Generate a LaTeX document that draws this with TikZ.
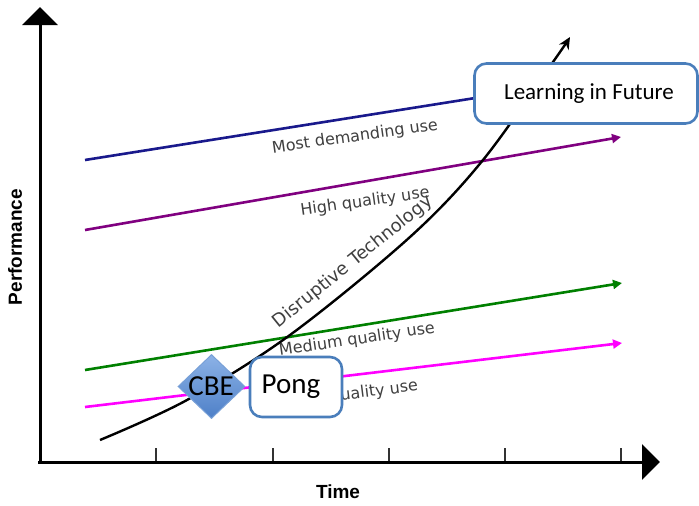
\documentclass[tikz,border=0pt]{standalone}
\usepackage{fontspec}
\setmainfont{Carlito}
\newfontfamily\labfont{DejaVu Sans}
\newfontfamily\axfont{Liberation Sans}
\usetikzlibrary{arrows.meta,shapes.geometric}
\definecolor{navyline}{RGB}{25,25,140}
\definecolor{purpleline}{RGB}{128,0,128}
\definecolor{greenline}{RGB}{0,128,0}
\definecolor{magline}{RGB}{255,0,255}
\definecolor{labgray}{RGB}{64,64,64}
\definecolor{boxblue}{RGB}{74,126,187}
\definecolor{dialight}{RGB}{140,178,230}
\definecolor{diadark}{RGB}{78,128,200}
\definecolor{diaedge}{RGB}{120,160,215}
\tikzset{
  axisline/.style={line width=3pt,-{Triangle[length=18pt,width=35pt]}},
  tickline/.style={line width=1.4pt,draw=black!80},
  useline/.style={line width=2.6pt,-{Triangle[length=9pt,width=9pt]}},
  lab/.style={font=\labfont\fontsize{16}{18}\selectfont,text=labgray,inner sep=0pt},
  axlab/.style={font=\axfont\bfseries\fontsize{19}{21}\selectfont,inner sep=0pt},
  callbox/.style={draw=boxblue,line width=2.6pt,rounded corners=12pt,fill=white,inner sep=0pt}
}
\begin{document}
\begin{tikzpicture}[x=1pt,y=-1pt]
\useasboundingbox (0,0) rectangle (699,506);
\fill[white] (0,0) rectangle (699,506);
% axes
\coordinate (ybot) at (40,464);
\coordinate (ytop) at (40,7);
\coordinate (xbeg) at (38,462);
\coordinate (xend) at (660,462);
\foreach \x in {156,273,389,505,621} \draw[tickline] (\x,448) -- (\x,462);
\draw[axisline] (ybot) -- (ytop);
\draw[axisline] (xbeg) -- (xend);
\node[axlab,rotate=90] (perf) at (15,247) {Performance};
\node[axlab] (time) at (338,492) {Time};
% use lines
\coordinate (b0) at (85,160); \coordinate (b1) at (620,75);
\coordinate (p0) at (85,230); \coordinate (p1) at (621,137);
\coordinate (g0) at (85,370); \coordinate (g1) at (622,283);
\coordinate (m0) at (85,407); \coordinate (m1) at (622,343);
\draw[useline,navyline] (b0) -- (b1);
\draw[useline,purpleline] (p0) -- (p1);
\draw[useline,greenline] (g0) -- (g1);
\draw[useline,magline] (m0) -- (m1);
\node[lab,rotate=8] (most) at (355,137) {Most demanding use};
\node[lab,rotate=8] (high) at (365,202) {High quality use};
\node[lab,rotate=8.5] (medium) at (357,340) {Medium quality use};
\node[lab,rotate=7] (low) at (356,394) {Low quality use};
% disruptive technology curve
\draw[line width=2.4pt,-{Stealth[length=12pt,width=11pt]}]
  plot[smooth,tension=0.55] coordinates {(100,440) (187,400) (290,335) (410,237) (483,160) (553,62) (570,37)};
\node[lab,font=\labfont\fontsize{18}{20}\selectfont,rotate=39] (disrupt) at (353,262) {Disruptive Technology};
% callouts
\node[callbox,minimum width=223pt,minimum height=60pt] (future) at (586,93.5) {};
\node[inner sep=0pt,font=\fontsize{23}{26}\selectfont] (futuretext) at (589,94) {Learning in Future};
\node[callbox,minimum width=92pt,minimum height=60pt] (pong) at (296,387) {};
\node[inner sep=0pt,font=\fontsize{29}{32}\selectfont] (pongtext) at (291,387) {Pong};
\node[diamond,draw=diaedge,line width=1pt,top color=dialight,bottom color=diadark,
      minimum width=67pt,minimum height=64pt,inner sep=0pt] (cbe) at (211.5,386.5) {};
\node[inner sep=0pt,font=\fontsize{29}{32}\selectfont] (cbetext) at (211,386) {CBE};
\end{tikzpicture}
\end{document}
